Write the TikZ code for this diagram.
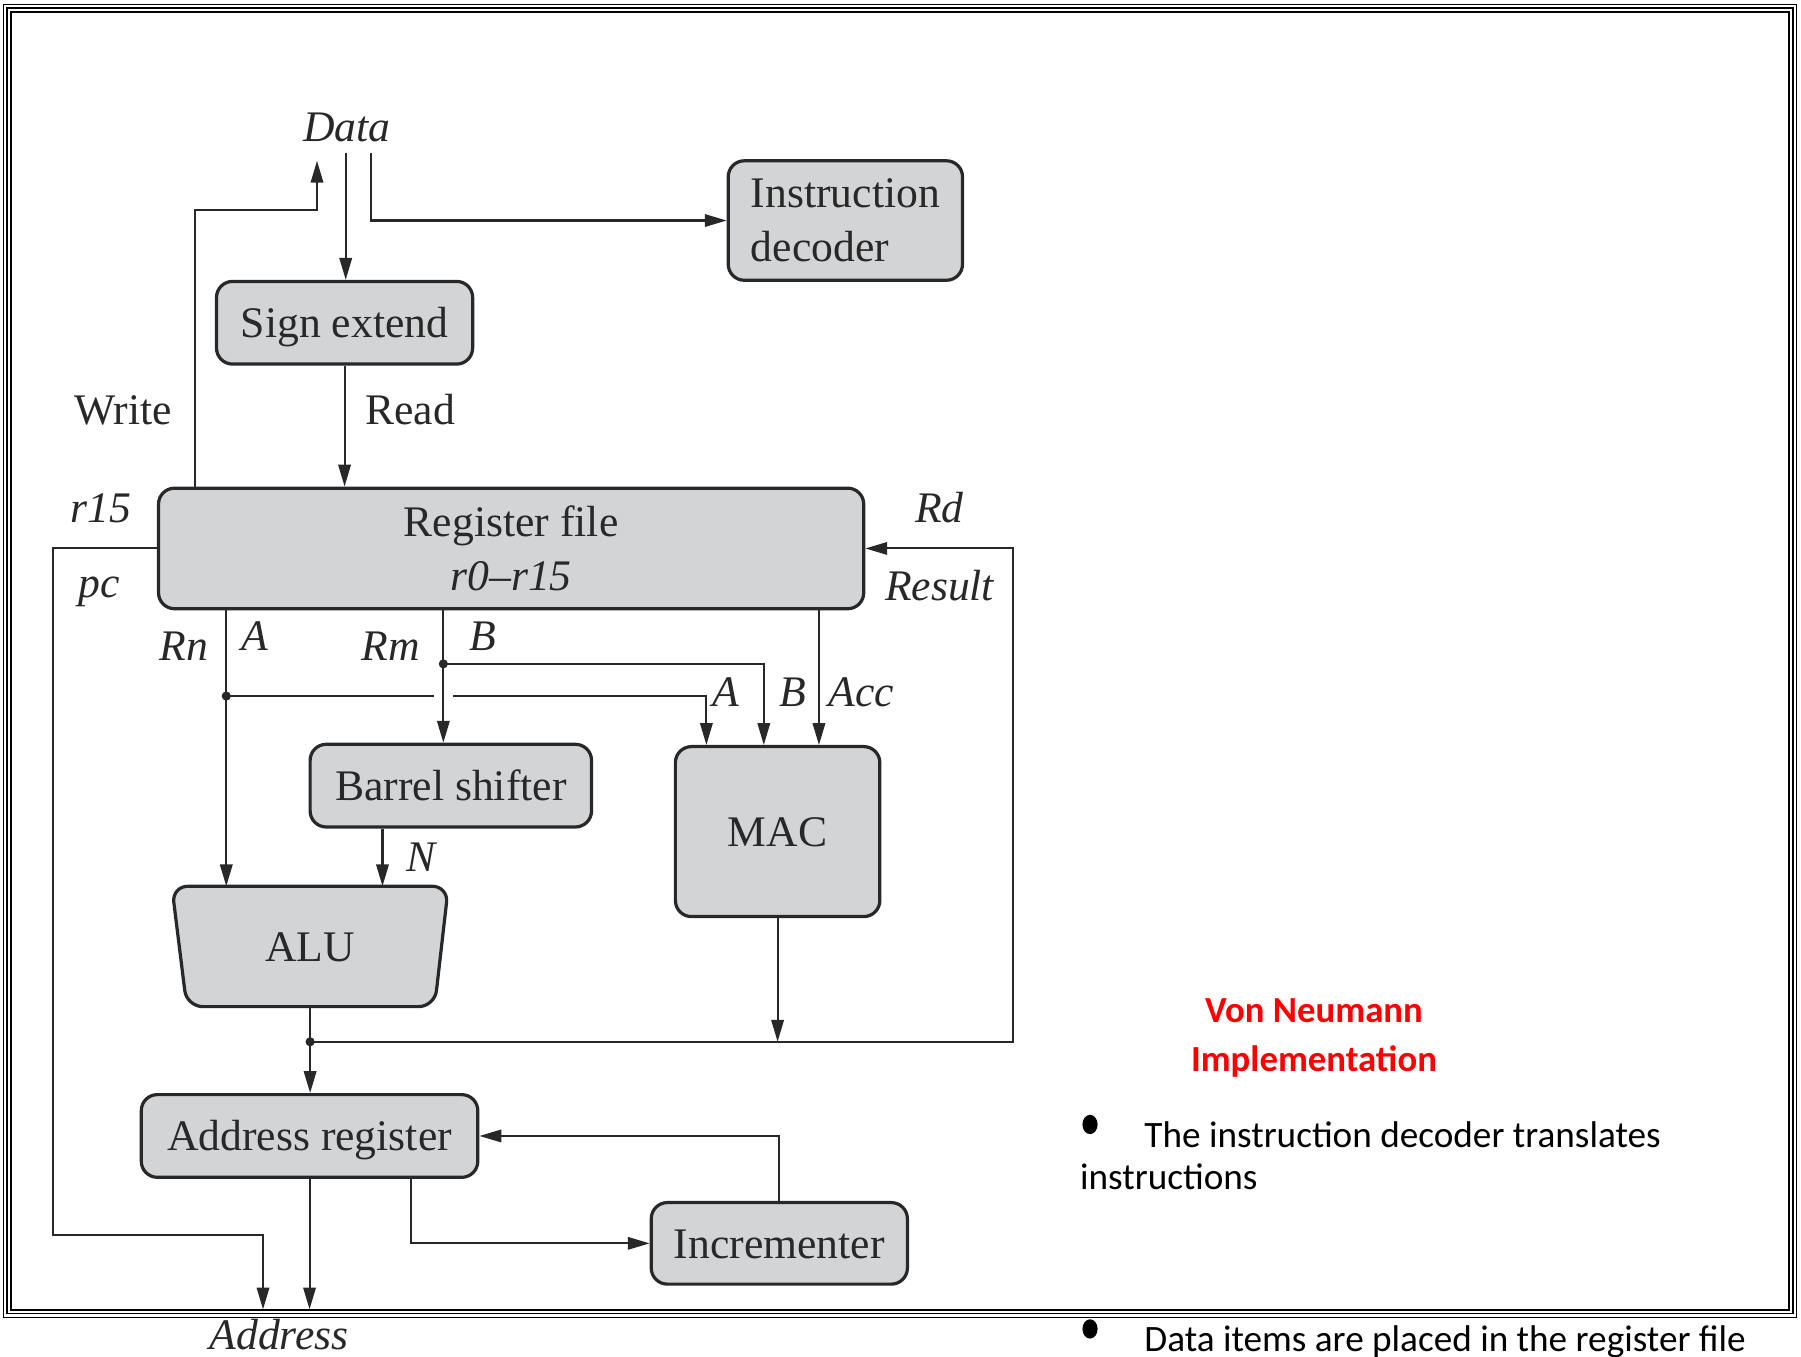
\documentclass[tikz,border=0pt]{standalone}
\usepackage{fontspec}
\setmainfont{Liberation Serif}
\newfontfamily\calfont{Carlito}
\usetikzlibrary{arrows.meta,backgrounds}
\definecolor{boxgray}{RGB}{211,212,214}
\definecolor{ink}{RGB}{40,40,40}
\begin{document}
\begin{tikzpicture}[x=0.5pt,y=-0.5pt,
  box/.style={draw=ink, line width=1.4pt, fill=boxgray, rounded corners=7pt, inner sep=0pt,
    text=ink, font=\fontsize{19}{23.5}\selectfont},
  onel/.style={text height=1.3em, text depth=0pt},
  wire/.style={draw=ink, line width=0.9pt},
  arr/.style={wire, -{Triangle[length=9.5pt,width=5.4pt]}},
  lbl/.style={inner sep=0pt, text=ink, text height=1.3em, text depth=0pt, font=\fontsize{19}{23}\selectfont},
  ilbl/.style={lbl, font=\fontsize{19}{23}\selectfont\itshape},
  dot/.style={circle, fill=ink, inner sep=0pt, minimum size=4pt},
  rtext/.style={inner sep=0pt, anchor=base west, font=\fontsize{16.2}{19.5}\selectfont\calfont},
]
\useasboundingbox (0,0) rectangle (1568,1181);
\begin{pgfonlayer}{background}
\fill[white] (0,0) rectangle (1568,1181);
\end{pgfonlayer}

% frame
\draw[line width=0.5pt] (3,4) rectangle (1564,1147);
\draw[line width=0.7pt] (6,7) rectangle (1561,1143.5);
\draw[line width=1.1pt] (9.5,10.5) rectangle (1557.5,1140.5);

% boxes
\node[box, minimum width=102pt, minimum height=52pt, align=left] (id) at (736,192) {Instruction\\decoder};
\node[box, onel, minimum width=111.5pt, minimum height=36pt] (se) at (300,281) {Sign extend};
\node[box, minimum width=307pt, minimum height=52.5pt, align=center] (rf) at (445,477.5) {Register file\\\textit{r0–r15}};
\node[box, onel, minimum width=122.5pt, minimum height=36pt] (bs) at (392.5,684) {Barrel shifter};
\node[box, onel, minimum width=89pt, minimum height=74pt] (mac) at (677,724) {MAC};
\node[box, onel, minimum width=146.5pt, minimum height=36pt] (ar) at (269.5,989) {Address register};
\node[box, onel, minimum width=111.5pt, minimum height=35.5pt] (inc) at (678.5,1082.5) {Incrementer};
\node[lbl, minimum width=120pt, minimum height=52pt, font=\fontsize{19}{23}\selectfont] (alu) at (270,824) {ALU};
\begin{pgfonlayer}{background}
\draw[draw=ink, line width=1.4pt, fill=boxgray, rounded corners=7pt]
  (alu.north west) -- (alu.north east) -- ([xshift=-6pt]alu.south east) -- ([xshift=6.5pt]alu.south west) -- cycle;
\end{pgfonlayer}

% labels
\node[ilbl] (data) at (302,110) {Data};
\node[lbl] (lwrite) at (107,357) {Write};
\node[lbl] (lread) at (357,357) {Read};
\node[ilbl] (lr15) at (88,442) {r15};
\node[ilbl] (lpc) at (86,507) {pc};
\node[ilbl] (lrd) at (818,442) {Rd};
\node[ilbl] (lres) at (818,510) {Result};
\node[ilbl] (lrn) at (160,562) {Rn};
\node[ilbl] (la1) at (222,553) {A};
\node[ilbl] (lrm) at (340,562) {Rm};
\node[ilbl] (lb1) at (420,553) {B};
\node[ilbl] (la2) at (632,602) {A};
\node[ilbl] (lb2) at (690,602) {B};
\node[ilbl] (lacc) at (750,602) {Acc};
\node[ilbl] (ln) at (367,746) {N};
\node[ilbl] (laddr) at (243,1162) {Address};

% coordinates
\coordinate (wtip) at (276,140);
\coordinate (wbend) at (170,183);
\coordinate (dsrc) at (301,133);
\coordinate (isrc) at (323,133);
\coordinate (pcx) at (46,1075);
\coordinate (addrA) at (229,1140);
\coordinate (xr) at (882,0);
\coordinate (xrn) at (197,0);
\coordinate (xrm) at (386,0);
\coordinate (xa) at (615,0);
\coordinate (xb) at (665,0);
\coordinate (xacc) at (713,0);
\coordinate (xn) at (333,0);
\coordinate (xari) at (358,0);
\coordinate (gapL) at (378,606);
\coordinate (gapR) at (394,606);
\node[dot] (rndot) at (197,606) {};
\node[dot] (rmdot) at (386,578) {};
\node[dot] (aludot) at (270,907) {};

% connectors
\draw[arr] (wbend |- rf.north) -- (wbend) -| (wtip);
\draw[arr] (dsrc) -- (dsrc |- se.north);
\draw[arr] (isrc) |- (id.west);
\draw[arr] (se.south) -- (se.south |- rf.north);
\draw[arr] (rf.west) -| (pcx) -| (addrA);
\draw[arr] (aludot.center) -| (xr |- rf.east) -- (rf.east);
\draw[arr] (xrn |- rf.south) -- (xrn |- alu.north);
\draw[wire] (rndot.center) -- (gapL);
\draw[arr] (gapR) -| (xa |- mac.north);
\draw[arr] (xrm |- rf.south) -- (xrm |- bs.north);
\draw[arr] (rmdot.center) -| (xb |- mac.north);
\draw[arr] (xacc |- rf.south) -- (xacc |- mac.north);
\draw[arr] (xn |- bs.south) -- (xn |- alu.north);
\draw[arr] (alu.south) -- (alu.south |- ar.north);
\draw[arr] (mac.south) -- (mac.south |- aludot.center);
\draw[arr] (inc.north) |- (ar.east);
\draw[arr] (xari |- ar.south) |- (inc.west);
\draw[arr] (ar.south) -- (ar.south |- addrA);

% right text
\node[inner sep=0pt, anchor=base, text=red, font=\fontsize{16}{19}\selectfont\calfont\bfseries] (t1) at (1144,890) {Von Neumann};
\node[inner sep=0pt, anchor=base, text=red, font=\fontsize{16}{19}\selectfont\calfont\bfseries] (t2) at (1144,933) {Implementation};
\fill (949,979) ellipse [x radius=3.3pt, y radius=4.2pt];
\node[rtext] (b1a) at (996,999) {The instruction decoder translates};
\node[rtext] (b1b) at (940,1036) {instructions};
\fill (949,1157) ellipse [x radius=3.3pt, y radius=4.2pt];
\node[rtext] (b2) at (996,1177) {Data items are placed in the register file};
\end{tikzpicture}
\end{document}
